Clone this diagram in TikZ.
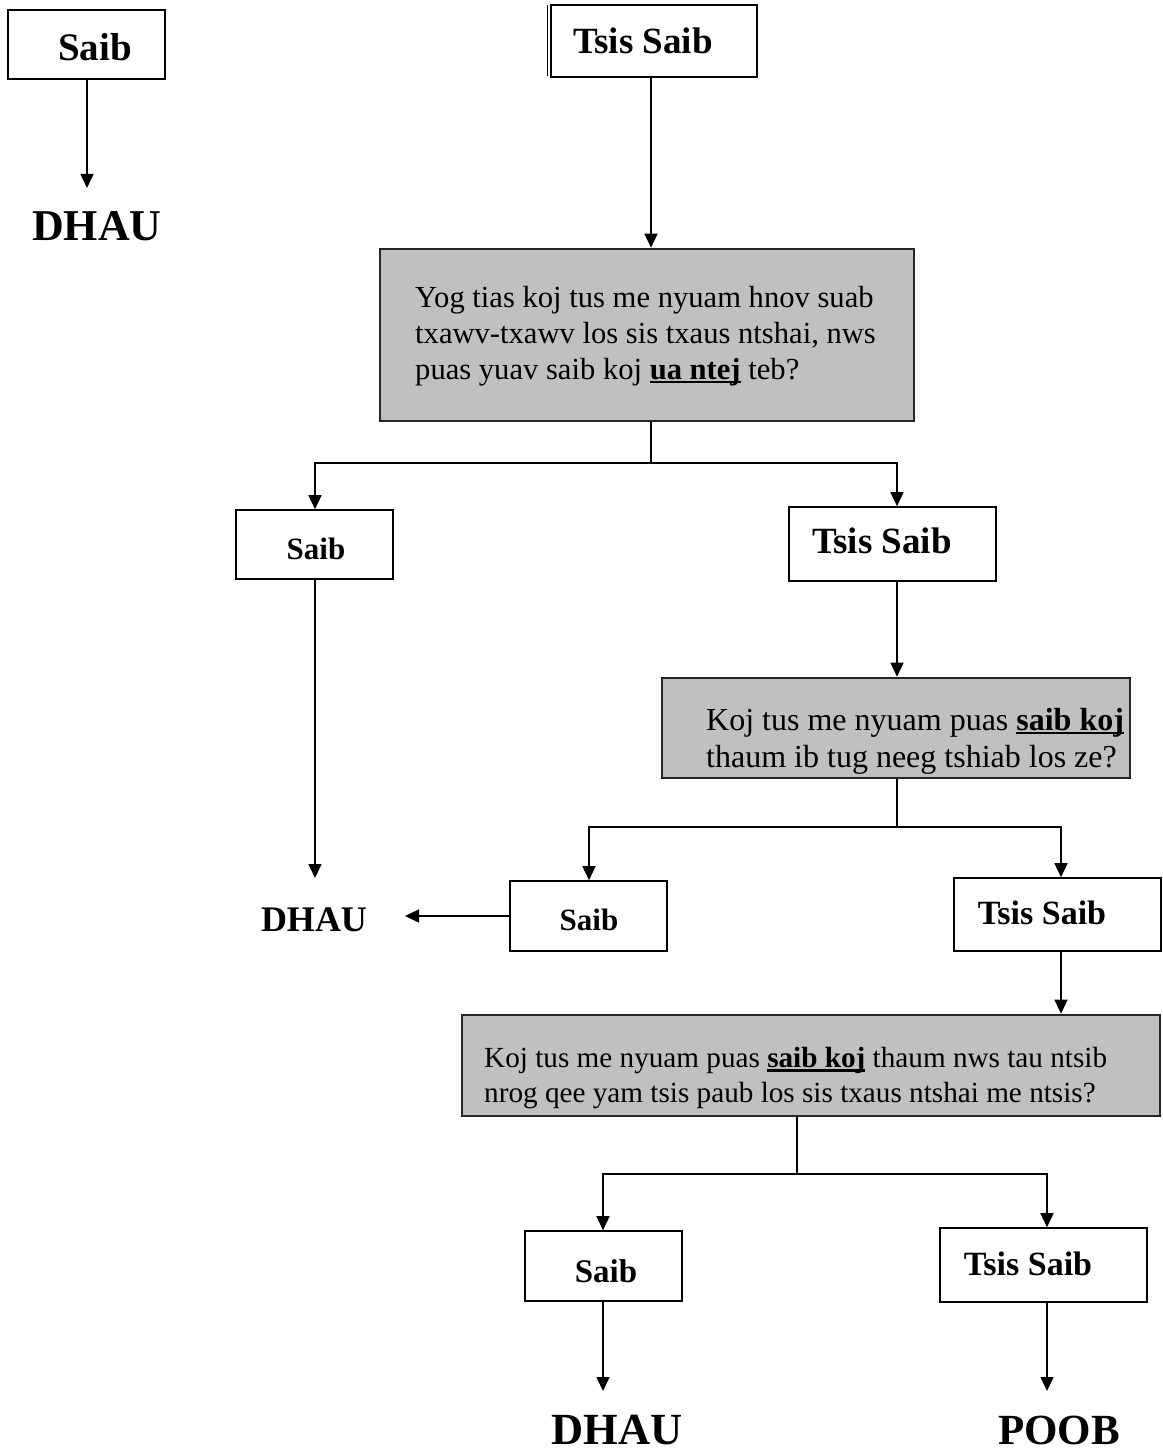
\documentclass[tikz,border=0pt]{standalone}
\usepackage{fontspec}
\setmainfont{Liberation Serif}
\usetikzlibrary{arrows.meta}
\definecolor{boxgray}{HTML}{C0C0C0}
\newsavebox{\ulbox}
\newcommand{\myul}[1]{\sbox{\ulbox}{#1}\rlap{\rule[-0.13em]{\wd\ulbox}{0.085em}}\usebox{\ulbox}}
\tikzset{
  wbox/.style={draw=black, line width=1.6pt, fill=white, inner sep=0pt},
  gbox/.style={draw=black!85, line width=2.6pt, fill=boxgray, inner sep=0pt},
  btxt/.style={font=\bfseries, inner sep=0pt},
  qtxt/.style={align=left, anchor=west, inner sep=0pt},
  conn/.style={line width=1.5pt},
  arr/.style={line width=1.5pt, -{Triangle[length=14pt,width=13pt]}},
}
\begin{document}
\begin{tikzpicture}[x=1pt,y=-1pt]
\useasboundingbox (0,0) rectangle (1162,1450);
% top left
\node[wbox, minimum width=157pt, minimum height=69pt] (s0) at (86.5,44.5) {};
\node[btxt, font=\fontsize{39}{44}\selectfont\bfseries] (s0t) at (95,47) {Saib};
\node[btxt, font=\fontsize{44}{50}\selectfont\bfseries] (d0) at (97,226) {DHAU};
\coordinate (d0top) at (87,188);
\draw[arr] (87,79) -- (d0top);
% top right
\node[wbox, minimum width=206pt, minimum height=72pt] (t0) at (654,41) {};
\draw[line width=1.4pt] (547.5,5) -- (547.5,76);
\node[btxt, font=\fontsize{37}{42}\selectfont\bfseries] (t0t) at (643,41) {Tsis Saib};
% question 1
\node[gbox, minimum width=534pt, minimum height=172pt] (q1) at (647,335) {};
\node[qtxt, font=\fontsize{30.6}{36}\selectfont] (q1t) at (415,336) {Yog tias koj tus me nyuam hnov suab\\ txawv-txawv los sis txaus ntshai, nws\\ puas yuav saib koj \myul{\textbf{ua ntej}} teb?};
\draw[arr] (t0.south -| 651,0) -- (q1.north -| 651,0);
% level 2
\node[wbox, minimum width=157pt, minimum height=69pt] (s1) at (314.5,544.5) {};
\node[btxt, font=\fontsize{31}{35}\selectfont\bfseries] (s1t) at (316,549) {Saib};
\node[wbox, minimum width=207pt, minimum height=74pt] (t1) at (892.5,544) {};
\node[btxt, font=\fontsize{37}{42}\selectfont\bfseries] (t1t) at (882,541) {Tsis Saib};
\coordinate (j1) at (651,463);
\draw[conn] (q1.south -| j1) -- (j1);
\draw[arr] (j1) -| (s1.north -| 315,0);
\draw[arr] (j1) -| (t1.north -| 897,0);
% DHAU mid
\node[btxt, font=\fontsize{36}{40}\selectfont\bfseries] (d1) at (314,920) {DHAU};
\coordinate (d1top) at (315,878);
\draw[arr] (s1.south -| d1top) -- (d1top);
% question 2
\node[gbox, minimum width=468pt, minimum height=100pt] (q2) at (896,728) {};
\node[qtxt, font=\fontsize{32}{37}\selectfont] (q2t) at (706,741) {Koj tus me nyuam puas \myul{\textbf{saib koj}}\\ thaum ib tug neeg tshiab los ze?};
\draw[arr] (t1.south -| 897,0) -- (q2.north -| 897,0);
% level 3
\node[wbox, minimum width=157pt, minimum height=70pt] (s2) at (588.5,916) {};
\node[btxt, font=\fontsize{31}{35}\selectfont\bfseries] (s2t) at (589,920) {Saib};
\node[wbox, minimum width=207pt, minimum height=73pt] (t2) at (1057.5,914.5) {};
\node[btxt, font=\fontsize{34}{39}\selectfont\bfseries] (t2t) at (1042,913) {Tsis Saib};
\coordinate (j2) at (897,827);
\draw[conn] (q2.south -| j2) -- (j2);
\draw[arr] (j2) -| (s2.north -| 589,0);
\draw[arr] (j2) -| (t2.north -| 1061,0);
\coordinate (d1right) at (405,916);
\draw[arr] (s2.west |- d1right) -- (d1right);
% question 3
\node[gbox, minimum width=698pt, minimum height=101pt] (q3) at (811,1065.5) {};
\node[qtxt, font=\fontsize{29.2}{35}\selectfont] (q3t) at (484,1078.5) {Koj tus me nyuam puas \myul{\textbf{saib koj}} thaum nws tau ntsib\\ nrog qee yam tsis paub los sis txaus ntshai me ntsis?};
\draw[arr] (t2.south -| 1061,0) -- (q3.north -| 1061,0);
% level 4
\node[wbox, minimum width=157pt, minimum height=70pt] (s3) at (603.5,1266) {};
\node[btxt, font=\fontsize{33}{37}\selectfont\bfseries] (s3t) at (606,1271) {Saib};
\node[wbox, minimum width=207pt, minimum height=74pt] (t3) at (1043.5,1265) {};
\node[btxt, font=\fontsize{34}{39}\selectfont\bfseries] (t3t) at (1028,1264) {Tsis Saib};
\coordinate (j3) at (797,1174);
\draw[conn] (q3.south -| j3) -- (j3);
\draw[arr] (j3) -| (s3.north -| 603,0);
\draw[arr] (j3) -| (t3.north -| 1047,0);
% bottom results
\node[btxt, font=\fontsize{44.5}{50}\selectfont\bfseries] (d2) at (617,1430) {DHAU};
\node[btxt, font=\fontsize{43}{48}\selectfont\bfseries] (p0) at (1059,1430) {POOB};
\coordinate (d2top) at (603,1391);
\coordinate (p0top) at (1047,1391);
\draw[arr] (s3.south -| d2top) -- (d2top);
\draw[arr] (t3.south -| p0top) -- (p0top);
\end{tikzpicture}
\end{document}
